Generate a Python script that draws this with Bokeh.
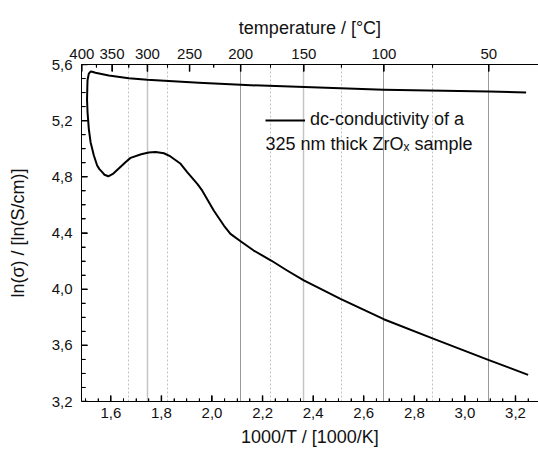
import numpy as np
from bokeh.plotting import figure
from bokeh.models import (LinearAxis, FixedTicker, CustomJSTickFormatter, Grid,
                          Legend, LegendItem, Label, Range1d)
from bokeh.embed import file_html
from bokeh.resources import INLINE

# ---- data ----
inv_T = [3.250, 3.095, 2.877, 2.679, 2.508, 2.416, 2.363, 2.297, 2.234, 2.165,
         2.113, 2.073, 2.047, 2.007, 1.961, 1.942, 1.902, 1.876, 1.836, 1.810,
         1.777, 1.750, 1.720, 1.678, 1.658, 1.640, 1.610, 1.590, 1.575, 1.566,
         1.555, 1.546, 1.533, 1.520, 1.513, 1.508, 1.506, 1.507, 1.508, 1.513,
         1.520, 1.530, 1.539, 1.592, 1.671, 1.744, 1.948, 2.113, 2.679, 3.095, 3.242]
ln_sigma = [3.390, 3.495, 3.646, 3.786, 3.931, 4.014, 4.062, 4.133, 4.204, 4.275,
            4.341, 4.394, 4.453, 4.560, 4.703, 4.750, 4.833, 4.893, 4.945, 4.968,
            4.977, 4.973, 4.961, 4.935, 4.904, 4.873, 4.823, 4.804, 4.815, 4.833,
            4.855, 4.881, 4.952, 5.047, 5.142, 5.260, 5.350, 5.427, 5.490, 5.535,
            5.550, 5.547, 5.541, 5.522, 5.502, 5.491, 5.470, 5.455, 5.420, 5.408, 5.400]

x_ticks = [1.6, 1.8, 2.0, 2.2, 2.4, 2.6, 2.8, 3.0, 3.2]
x_minor = [1.5, 1.55, 1.65, 1.7, 1.75, 1.85, 1.9, 1.95, 2.05, 2.1, 2.15, 2.25, 2.3, 2.35,
           2.45, 2.5, 2.55, 2.65, 2.7, 2.75, 2.85, 2.9, 2.95, 3.05, 3.1, 3.15, 3.25]
y_ticks = [3.2, 3.6, 4.0, 4.4, 4.8, 5.2, 5.6]
y_minor = [3.3, 3.4, 3.5, 3.7, 3.8, 3.9, 4.1, 4.2, 4.3, 4.5, 4.6, 4.7, 4.9, 5.0, 5.1, 5.3, 5.4, 5.5]
temp_major = [400, 350, 300, 250, 200, 150, 100, 50]          # °C, top axis labels
temp_minor = [375, 325, 275, 225, 175, 125, 75]
grid_solid_dark = [200, 100, 50]
grid_solid_light = [300, 150]
grid_dotted = [325, 275, 175, 125, 75]

def inv(t):
    return [1000.0 / (v + 273.15) for v in t]

FONT = "Liberation Sans"
X0, X1, Y0, Y1 = 1.4841, 3.291, 3.2, 5.6
FRAME_W, FRAME_H = 457, 337
PX_X = (X1 - X0) / FRAME_W     # data units per pixel
PX_Y = (Y1 - Y0) / FRAME_H

p = figure(width=538, height=451, output_backend="svg", toolbar_location=None,
           x_range=Range1d(X0, X1), y_range=Range1d(Y0, Y1),
           min_border_left=81, min_border_right=0, min_border_top=64, min_border_bottom=50)
p.outline_line_color = None
p.xgrid.visible = False
p.ygrid.visible = False
p.background_fill_color = "white"

# vertical reference lines at temperatures
for temps, color, dash, w in [(grid_solid_dark, "#9a9a9a", "solid", 1.0),
                              (grid_solid_light, "#c4c4c4", "solid", 1.5),
                              (grid_dotted, "#c2c2c2", "2 2", 1.0)]:
    g = Grid(dimension=0, ticker=FixedTicker(ticks=inv(temps)),
             grid_line_color=color, grid_line_dash=dash, grid_line_width=w)
    p.add_layout(g)

r = p.line(inv_T, ln_sigma, line_color="black", line_width=2, line_join="round")

# inward tick marks
def vticks(xs, y, n_px, w):
    y1 = y + n_px * PX_Y if y == Y0 else y - n_px * PX_Y
    p.segment(x0=xs, y0=[y] * len(xs), x1=xs, y1=[y1] * len(xs),
              line_color="black", line_width=w)

vticks(x_ticks, Y0, 6, 1.5)
vticks(x_minor, Y0, 3, 1)
vticks(inv(temp_major), Y1, 7, 1.5)
vticks(inv(temp_minor), Y1, 3, 1)
p.segment(x0=[X0] * len(y_ticks), y0=y_ticks, x1=[X0 + 6 * PX_X] * len(y_ticks), y1=y_ticks,
          line_color="black", line_width=1.5)
p.segment(x0=[X0] * len(y_minor), y0=y_minor, x1=[X0 + 4 * PX_X] * len(y_minor), y1=y_minor,
          line_color="black", line_width=1)

def style_axis(ax, tin, tmin):
    ax.axis_line_color = "black"
    ax.axis_line_width = 1
    ax.major_tick_in = tin
    ax.major_tick_out = 0
    ax.minor_tick_in = tmin
    ax.minor_tick_out = 0
    ax.major_tick_line_color = "black"
    ax.minor_tick_line_color = "black"
    ax.major_label_text_font = FONT
    ax.major_label_text_font_size = "15px"
    ax.major_label_text_color = "#111111"
    ax.axis_label_text_font = FONT
    ax.axis_label_text_font_size = "18px"
    ax.axis_label_text_font_style = "normal"
    ax.axis_label_text_color = "#111111"

xa = p.xaxis[0]
xa.ticker = FixedTicker(ticks=x_ticks, minor_ticks=x_minor)
xa.formatter = CustomJSTickFormatter(code="return tick.toFixed(1).replace('.', ',');")
xa.axis_label = "1000/T / [1000/K]"
style_axis(xa, 6, 3)
xa.major_label_standoff = 6
xa.axis_label_standoff = 6

ya = p.yaxis[0]
ya.ticker = FixedTicker(ticks=y_ticks, minor_ticks=y_minor)
ya.formatter = CustomJSTickFormatter(code="return tick.toFixed(1).replace('.', ',');")
ya.axis_label = "ln(σ) / [ln(S/cm)]"
style_axis(ya, 6, 4)
ya.major_label_standoff = 9
ya.axis_label_standoff = 21

top = LinearAxis(ticker=FixedTicker(ticks=inv(temp_major), minor_ticks=inv(temp_minor)),
                 formatter=CustomJSTickFormatter(code="return Math.round(1000/tick - 273.15).toString();"),
                 axis_label="temperature / [°C]")
style_axis(top, 7, 3)
top.major_label_standoff = 6
top.axis_label_standoff = 8
p.add_layout(top, "above")

legend = Legend(items=[LegendItem(label="dc-conductivity of a", renderers=[r])],
                location=(184, 271), glyph_width=40, glyph_height=20, label_height=20,
                label_standoff=5, padding=0, margin=0, spacing=0,
                border_line_color=None, background_fill_alpha=0,
                label_text_font=FONT, label_text_font_size="18px", label_text_color="#111111")
p.add_layout(legend)

lab = Label(x=184, y=258, x_units="screen", y_units="screen", text="325 nm thick ZrOₓ sample",
            text_font=FONT, text_font_size="18px", text_color="#111111", text_baseline="middle")
p.add_layout(lab)

open("out.html", "w").write(file_html(p, INLINE))
